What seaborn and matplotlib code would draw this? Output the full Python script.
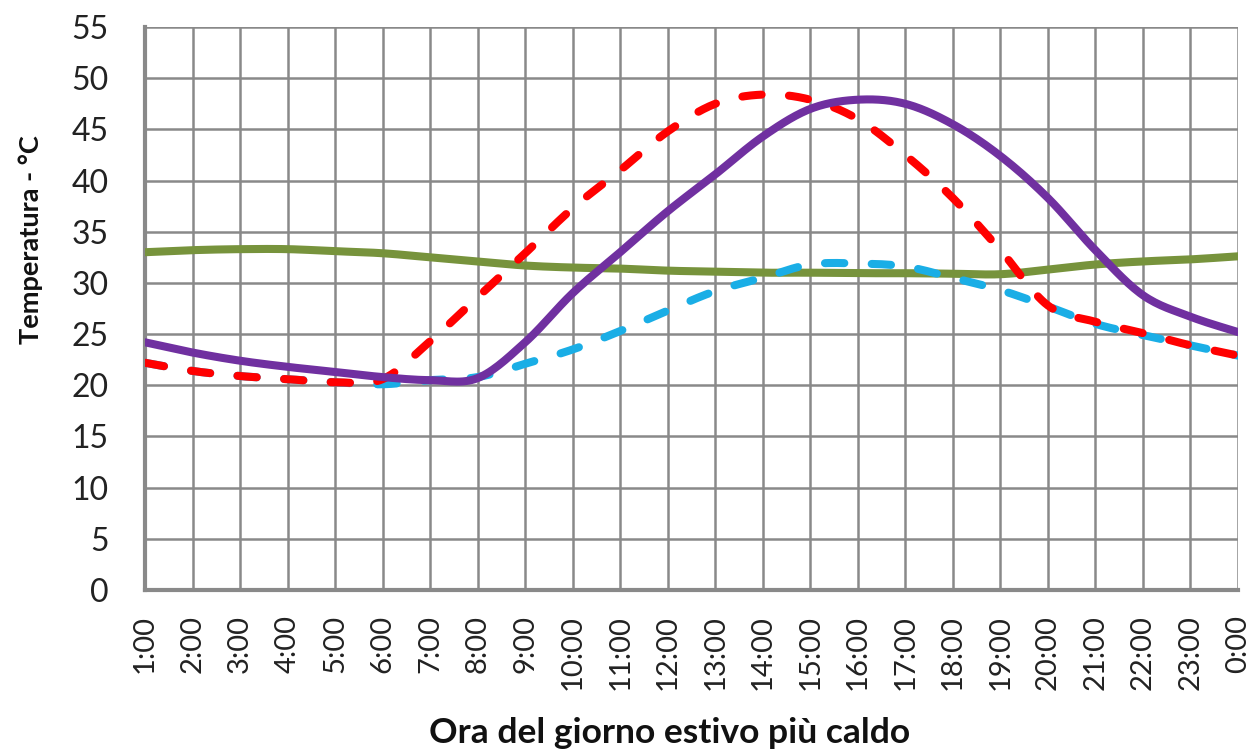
import numpy as np
import pandas as pd
import matplotlib
matplotlib.use("Agg")
import matplotlib.pyplot as plt
import seaborn as sns

# hours of the hottest summer day
hours = ["1:00", "2:00", "3:00", "4:00", "5:00", "6:00", "7:00", "8:00",
         "9:00", "10:00", "11:00", "12:00", "13:00", "14:00", "15:00", "16:00",
         "17:00", "18:00", "19:00", "20:00", "21:00", "22:00", "23:00", "0:00"]

# values (°C)
temp_green = [33.0, 33.2, 33.3, 33.3, 33.1, 32.9, 32.5, 32.1, 31.7, 31.5, 31.4, 31.2,
              31.1, 31.0, 31.0, 30.95, 30.95, 30.9, 30.85, 31.3, 31.8, 32.1, 32.3, 32.6]
temp_cyan = [22.2, 21.4, 20.9, 20.6, 20.3, 20.1, 20.5, 20.8, 22.1, 23.5, 25.3, 27.3,
             29.2, 30.5, 31.8, 31.9, 31.6, 30.5, 29.3, 27.7, 26.0, 24.9, 23.9, 22.9]
temp_red = [22.2, 21.4, 20.9, 20.6, 20.3, 20.6, 24.3, 28.6, 32.9, 37.3, 41.0, 44.8,
            47.5, 48.4, 47.9, 46.0, 42.5, 38.3, 33.2, 27.8, 26.2, 25.1, 23.9, 22.9]
temp_purple = [24.2, 23.2, 22.4, 21.8, 21.3, 20.8, 20.5, 20.7, 24.2, 29.0, 33.0, 37.0,
               40.6, 44.3, 47.0, 47.9, 47.5, 45.5, 42.4, 38.3, 33.2, 28.8, 26.7, 25.2]

sns.set_style("white")
plt.rcParams['font.family'] = ['Lato', 'DejaVu Sans']


def smooth(ys, n=16):
    """Excel-style smoothed line: cubic Bezier between consecutive points."""
    p = np.column_stack([np.arange(len(ys), dtype=float), np.asarray(ys, float)])
    ext = np.vstack([p[0], p, p[-1]])
    t = np.linspace(0, 1, n, endpoint=False)[:, None]
    out = []
    for i in range(len(p) - 1):
        p0, p1, p2, p3 = ext[i], ext[i + 1], ext[i + 2], ext[i + 3]
        c1 = p1 + (p2 - p0) / 6
        c2 = p2 - (p3 - p1) / 6
        seg = ((1 - t) ** 3) * p1 + 3 * ((1 - t) ** 2) * t * c1 + 3 * (1 - t) * t ** 2 * c2 + t ** 3 * p2
        out.append(seg)
    out.append(p[-1][None, :])
    out = np.vstack(out)
    return out[:, 0], out[:, 1]


fig = plt.figure(figsize=(12.52, 7.51), dpi=100)
ax = fig.add_axes([0.1158, 0.2144, 0.873, 0.7496])

grid_col = '#898989'
series = [
    (temp_green, '#77933C', '-'),
    (temp_cyan, '#1AAEE6', (0, (2.4, 3.4))),
    (temp_red, '#FF0000', (0, (2.4, 3.4))),
    (temp_purple, '#7030A0', '-'),
]
for vals, col, ls in series:
    sx, sy = smooth(vals)
    sns.lineplot(x=sx, y=sy, ax=ax, color=col, linewidth=5.8, linestyle=ls,
                 dash_capstyle='round', solid_capstyle='round', sort=False,
                 estimator=None, zorder=3)

ax.set_xlim(0, len(hours) - 1)
ax.set_ylim(0, 55)
ax.set_xticks(range(len(hours)))
ax.set_xticklabels(hours, rotation=90, fontsize=21)
ax.set_yticks(range(0, 56, 5))
ax.tick_params(axis='y', labelsize=23, length=9, width=2.5, color=grid_col, pad=17,
               direction='out', labelcolor='#222222')
ax.tick_params(axis='x', length=8, width=2.5, color=grid_col, pad=10, direction='out',
               labelcolor='#222222')
ax.grid(True, color=grid_col, linewidth=1.8)
ax.set_axisbelow(True)
for side in ['top', 'right']:
    ax.spines[side].set_visible(False)
for side in ['left', 'bottom']:
    ax.spines[side].set_color(grid_col)
    ax.spines[side].set_linewidth(3)
    ax.spines[side].set_zorder(2)

ax.set_xlabel('Ora del giorno estivo più caldo', fontsize=25.5, fontweight='bold',
              color='#111111')
ax.xaxis.set_label_coords(0.48, -0.226)
ax.set_ylabel('Temperatura - °C', fontsize=19.5, fontweight='bold', color='#111111')
ax.yaxis.set_label_coords(-0.093, 0.622)

fig.savefig('out.png', dpi=100, facecolor='white')
